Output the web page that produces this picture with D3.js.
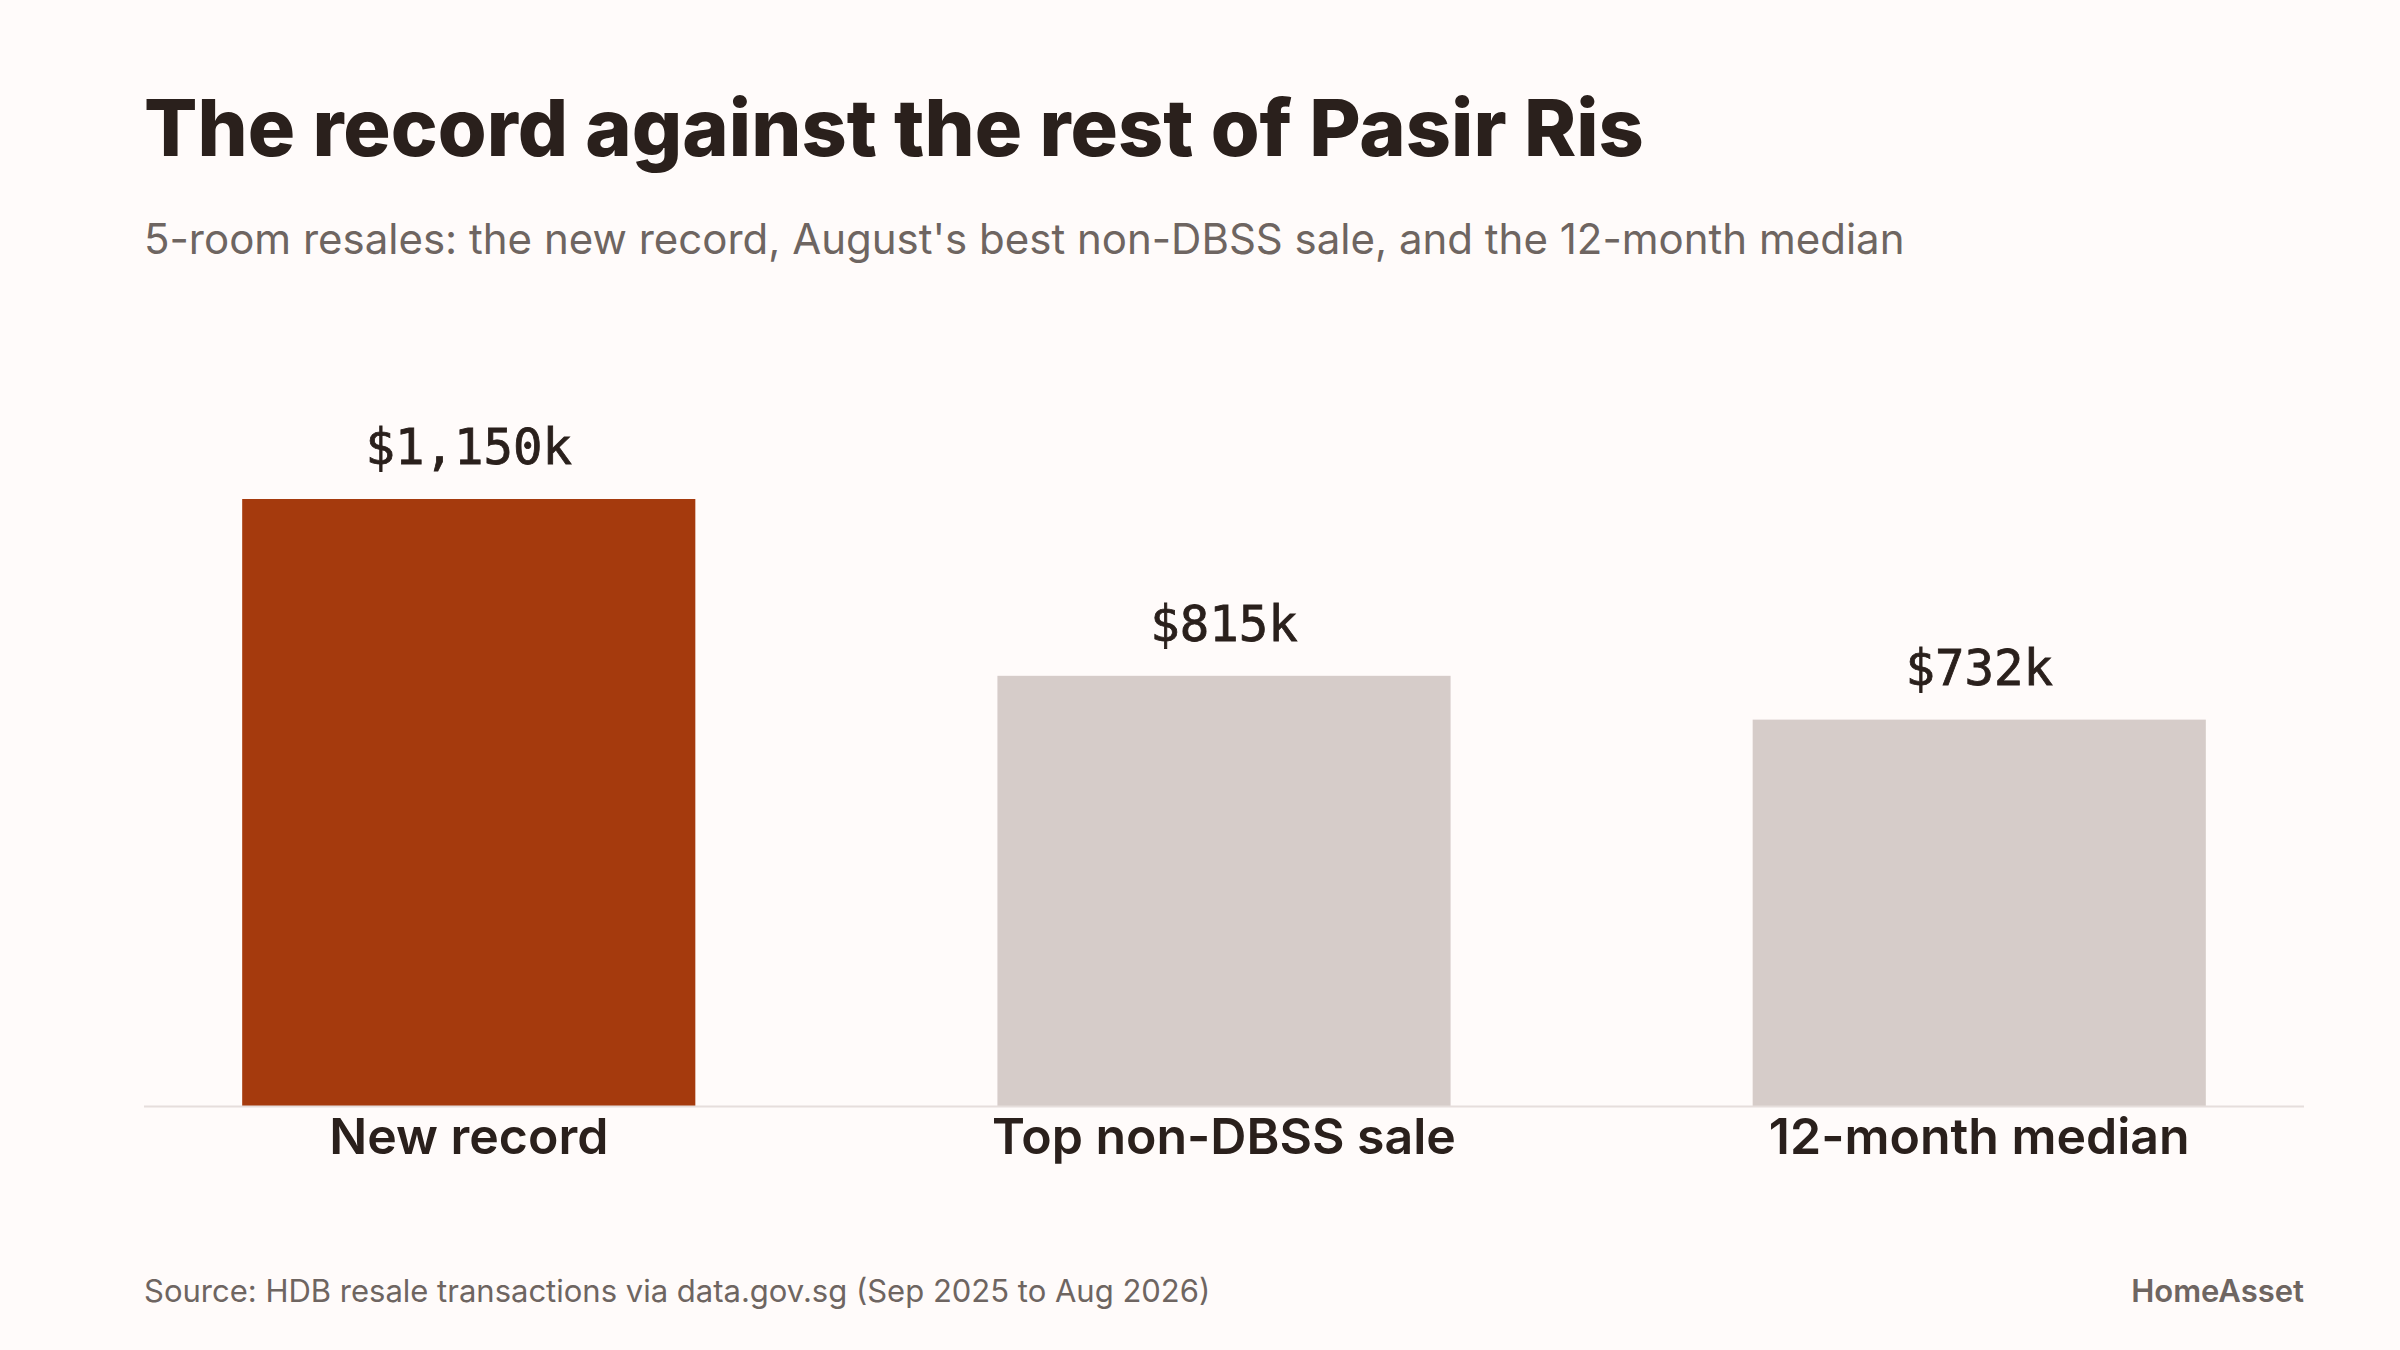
<!DOCTYPE html>
<html><head><meta charset="utf-8">
<script src="https://cdn.jsdelivr.net/npm/d3@7"></script>
<style>
html,body{margin:0;padding:0;background:#fffbfa;}
svg{display:block;}
</style></head>
<body>
<svg id="chart" width="2400" height="1350"></svg>
<script>
const categories = ["New record", "Top non-DBSS sale", "12-month median"];
const values = [1150, 815, 732];
const valueLabels = ["$1,150k", "$815k", "$732k"];
const highlight = [true, false, false];

const title = "The record against the rest of Pasir Ris";
const subtitle = "5-room resales: the new record, August's best non-DBSS sale, and the 12-month median";
const source = "Source: HDB resale transactions via data.gov.sg (Sep 2025 to Aug 2026)";
const brand = "HomeAsset";

const W = 2400, H = 1350;
const left = 144, right = 2304, baseY = 1106;
const svg = d3.select("#chart");
svg.append("rect").attr("width", W).attr("height", H).attr("fill", "#fffbfa");

const sans = "Inter, 'Noto Sans', 'Liberation Sans', sans-serif";

svg.append("text").attr("x", left).attr("y", 156)
  .attr("font-family", sans).attr("font-weight", 800).attr("font-size", 79)
  .attr("fill", "#2a201c").text(title);

svg.append("text").attr("x", left).attr("y", 254)
  .attr("font-family", sans).attr("font-weight", 400).attr("font-size", 42)
  .attr("fill", "#6e6561").text(subtitle);

const x = d3.scaleBand().domain(categories).range([left, right])
  .paddingInner(0.4).paddingOuter(0.13);
const y = d3.scaleLinear().domain([0, 1150]).range([baseY, 499]);

const g = svg.append("g");
g.selectAll("rect.bar").data(categories).join("rect")
  .attr("class", "bar")
  .attr("x", d => x(d))
  .attr("width", x.bandwidth())
  .attr("y", (d, i) => y(values[i]))
  .attr("height", (d, i) => baseY - y(values[i]))
  .attr("fill", (d, i) => highlight[i] ? "#a53a0d" : "#d6ccc9");

g.selectAll("text.val").data(categories).join("text")
  .attr("class", "val")
  .attr("x", d => x(d) + x.bandwidth() / 2)
  .attr("y", (d, i) => y(values[i]) - 35)
  .attr("text-anchor", "middle")
  .attr("font-family", "'DejaVu Sans Mono', 'Liberation Mono', monospace")
  .attr("font-size", 49)
  .attr("stroke", "#2a201c").attr("stroke-width", 0.8)
  .attr("fill", "#2a201c")
  .text((d, i) => valueLabels[i]);

const axis = svg.append("g").attr("transform", `translate(0,${baseY})`)
  .call(d3.axisBottom(x).tickSize(0).tickPadding(48));
axis.select(".domain").attr("stroke", "#e6dedc").attr("stroke-width", 2)
  .attr("d", `M${left},0.5H${right}`);
axis.selectAll(".tick text")
  .attr("font-family", sans).attr("font-size", 50).attr("font-weight", 600)
  .attr("fill", "#2a201c").attr("dy", 0);
axis.selectAll(".tick text").attr("y", 48);

svg.append("text").attr("x", left).attr("y", 1302)
  .attr("font-family", sans).attr("font-size", 31)
  .attr("fill", "#6e6561").text(source);

svg.append("text").attr("x", right).attr("y", 1302)
  .attr("text-anchor", "end")
  .attr("font-family", sans).attr("font-size", 31).attr("font-weight", 600)
  .attr("fill", "#6e6561").text(brand);
</script>
</body></html>
